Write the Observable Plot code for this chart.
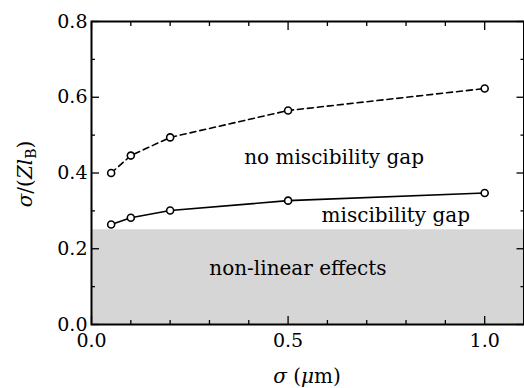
<!DOCTYPE html>
<html><head><meta charset="utf-8">
<script src="https://cdn.jsdelivr.net/npm/d3@7"></script>
<script src="https://cdn.jsdelivr.net/npm/@observablehq/plot@0.6"></script>
<style>body{margin:0;background:#fff}</style>
</head><body><div id="chart"></div>
<script>
// Data
const sigma = [0.05, 0.1, 0.2, 0.5, 1.0];
const noGap = [0.400, 0.446, 0.494, 0.565, 0.623];   // dashed: boundary of "no miscibility gap"
const gap   = [0.264, 0.282, 0.301, 0.327, 0.347];   // solid: boundary of "miscibility gap"
const nonLinearLimit = 0.25;
const xDomain = [0, 1.1];
const yDomain = [0, 0.8];
const xMajor = [0, 0.5, 1.0];
const xMajorLabels = ["0.0", "0.5", "1.0"];
const xMinor = [0.1, 0.2, 0.3, 0.4, 0.6, 0.7, 0.8, 0.9];
const yMajor = [0, 0.2, 0.4, 0.6, 0.8];
const yMajorLabels = ["0.0", "0.2", "0.4", "0.6", "0.8"];
const yMinor = [0.1, 0.3, 0.5, 0.7];
const annotationText = ["no miscibility gap", "miscibility gap", "non-linear effects"];
const annotationX = [0.617, 0.774, 0.525];
const annotationY = [0.44, 0.288, 0.148];

const dashed = sigma.map((s, i) => ({x: s, y: noGap[i]}));
const solid = sigma.map((s, i) => ({x: s, y: gap[i]}));
const region = [{x1: xDomain[0], x2: xDomain[1], y1: yDomain[0], y2: nonLinearLimit}];
const notes = annotationText.map((t, i) => ({text: t, x: annotationX[i], y: annotationY[i]}));

const FONT = "DejaVu Serif";
const FS = 19;   // tick labels
const FA = 20;   // annotations and axis titles

const svg = Plot.plot({
  width: 524,
  height: 388,
  marginLeft: 91,
  marginTop: 21,
  marginBottom: 64,
  marginRight: 0.5,
  style: {fontFamily: FONT, fontSize: FS + "px", color: "black", background: "white"},
  x: {domain: xDomain},
  y: {domain: yDomain},
  marks: [
    Plot.rect(region, {x1: "x1", x2: "x2", y1: "y1", y2: "y2", fill: "#d6d6d6"}),
    // tick labels
    Plot.axisX(xMajor, {anchor: "bottom", tickSize: 0, tickPadding: 9, tickFormat: (d) => xMajorLabels[xMajor.indexOf(d)], fontSize: FS, fontFamily: FONT, label: null}),
    Plot.axisY(yMajor, {anchor: "left", tickSize: 0, tickPadding: 4, tickFormat: (d) => yMajorLabels[yMajor.indexOf(d)], fontSize: FS, fontFamily: FONT, label: null}),
    // inward ticks
    Plot.axisX(xMajor, {anchor: "bottom", tickSize: -8, text: null, label: null, strokeWidth: 1.3}),
    Plot.axisX(xMinor, {anchor: "bottom", tickSize: -4, text: null, label: null, strokeWidth: 1.3}),
    Plot.axisX(xMajor, {anchor: "top", tickSize: -8, text: null, label: null, strokeWidth: 1.3}),
    Plot.axisX(xMinor, {anchor: "top", tickSize: -4, text: null, label: null, strokeWidth: 1.3}),
    Plot.axisY(yMajor, {anchor: "left", tickSize: -8, text: null, label: null, strokeWidth: 1.3}),
    Plot.axisY(yMinor, {anchor: "left", tickSize: -4, text: null, label: null, strokeWidth: 1.3}),
    Plot.axisY(yMajor, {anchor: "right", tickSize: -8, text: null, label: null, strokeWidth: 1.3}),
    Plot.axisY(yMinor, {anchor: "right", tickSize: -4, text: null, label: null, strokeWidth: 1.3}),
    Plot.frame({stroke: "black", strokeWidth: 2}),
    Plot.line(dashed, {x: "x", y: "y", stroke: "black", strokeWidth: 1.6, strokeDasharray: "6,4"}),
    Plot.line(solid, {x: "x", y: "y", stroke: "black", strokeWidth: 1.6}),
    Plot.dot(dashed, {x: "x", y: "y", r: 3.5, stroke: "black", strokeWidth: 1.6, fill: "white"}),
    Plot.dot(solid, {x: "x", y: "y", r: 3.5, stroke: "black", strokeWidth: 1.6, fill: "white"}),
    Plot.text(notes, {x: "x", y: "y", text: "text", fontSize: FA, fontFamily: FONT, fill: "black", className: "note"})
  ]
});

document.getElementById("chart").appendChild(svg);
const s = d3.select(svg);

// white box behind "non-linear effects"
s.selectAll(".note text").each(function() {
  if (this.textContent === annotationText[2]) {
    const b = this.getBBox();
    const g = this.parentNode;
    d3.select(g).insert("rect", function() { return g.firstChild; })
      .attr("x", b.x - 9).attr("y", b.y + 1).attr("width", b.width + 18).attr("height", b.height)
      .attr("fill", "white");
  }
});

// axis titles with math-like formatting
const xt = s.append("text").attr("x", 307).attr("y", 383).attr("text-anchor", "middle")
  .attr("font-family", FONT).attr("font-size", FA).attr("fill", "black");
xt.append("tspan").attr("font-style", "italic").text("σ");
xt.append("tspan").text(" (");
xt.append("tspan").attr("font-style", "italic").text("μ");
xt.append("tspan").text("m)");

const yt = s.append("text").attr("transform", "translate(32,174) rotate(-90)").attr("text-anchor", "middle")
  .attr("font-family", FONT).attr("font-size", FA).attr("fill", "black");
yt.append("tspan").attr("font-style", "italic").text("σ");
yt.append("tspan").text("/(");
yt.append("tspan").attr("font-style", "italic").text("Zl");
yt.append("tspan").attr("font-size", 14).attr("dy", 4).text("B");
yt.append("tspan").attr("dy", -4).text(")");
</script>
</body></html>
